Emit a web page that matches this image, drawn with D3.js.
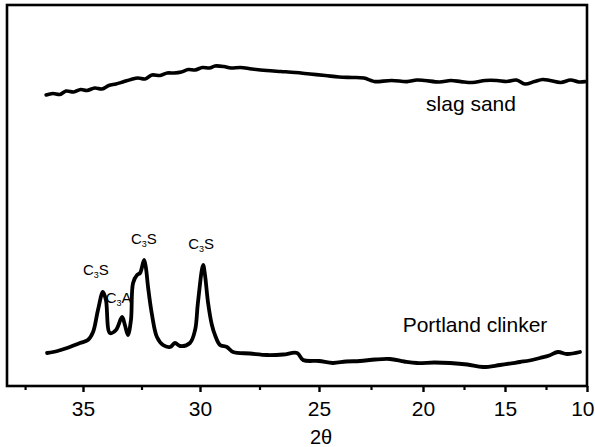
<!DOCTYPE html>
<html>
<head>
<meta charset="utf-8">
<script src="https://cdn.jsdelivr.net/npm/d3@7/dist/d3.min.js"></script>
<style>
  html, body { margin: 0; padding: 0; background: #fff; }
  svg { display: block; font-family: "Liberation Sans", Arial, sans-serif; }
</style>
</head>
<body>
<svg id="chart" width="595" height="447"></svg>
<script>
// ---- data (2θ in degrees, intensity in arbitrary units) ----
const slagTheta = [36.59, 36.3, 36.0, 35.73, 35.4, 35.1, 34.83, 34.5, 34.19, 33.9, 33.59, 33.3, 32.95, 32.65, 32.35, 32.05, 31.7, 31.4, 31.11, 30.8, 30.5, 30.21, 29.9, 29.6, 29.37, 29.0, 28.70, 28.3, 27.82, 27.2, 26.60, 26.0, 25.38, 24.7, 24.04, 23.4, 22.84, 22.5, 22.31, 21.5, 20.77, 20.3, 19.88, 19.0, 18.3, 17.68, 17.0, 16.2, 15.49, 14.9, 14.3, 13.78, 13.2, 12.7, 12.26, 11.6, 11.0, 10.5, 10.12];
const slagInt   = [291, 292.5, 291.5, 295, 294, 296.5, 295.5, 298, 297, 300.5, 302, 304, 306.5, 308, 307, 311, 310.5, 313, 313, 314, 316.5, 316, 318.5, 318, 320, 319.5, 318, 318.5, 317, 315.5, 314.5, 313.5, 312, 310.5, 309, 308.5, 308, 305.5, 304.4, 305.5, 304.4, 306, 305.5, 304, 305.5, 304.4, 303.5, 305.5, 305.5, 304.5, 306, 302, 304.5, 306.5, 305.5, 303.5, 306, 304, 304.4];

const clinkerTheta = [36.55, 36.1, 35.69, 35.13, 34.79, 34.57, 34.36, 34.15, 34.02, 33.85, 33.59, 33.33, 33.21, 33.08, 32.95, 32.86, 32.69, 32.56, 32.39, 32.31, 32.22, 32.05, 31.84, 31.58, 31.28, 31.07, 30.85, 30.43, 30.21, 30.09, 29.87, 29.79, 29.66, 29.50, 29.37, 29.16, 28.87, 28.61, 27.9, 27.18, 26.5, 25.92, 25.67, 25.0, 24.33, 23.7, 23.03, 22.3, 21.59, 20.9, 20.29, 19.3, 18.35, 17.3, 16.34, 15.30, 14.09, 13.5, 12.87, 12.3, 11.77, 11.22, 10.43];
const clinkerInt   = [33, 35, 38, 43, 46, 54, 76, 94, 86, 53, 56, 69, 61, 51, 66, 103, 111, 113, 126, 118, 99, 71, 49, 41, 39, 43, 40, 43, 56, 83, 121, 111, 83, 61, 51, 41, 39, 34, 32.5, 31, 31.5, 33, 26, 25, 23, 24.5, 25, 26.5, 27, 24.5, 23, 23.5, 23, 21.5, 19, 21, 24, 25.5, 28, 30.5, 34, 32, 34];

const majorTicks = [35, 30, 25, 20, 15, 10];
const minorTicks = [37.5, 32.5, 27.5, 22.5, 17.5, 12.5];
const seriesNames = ["slag sand", "Portland clinker"];
const peakLabels = [
  { base: "C", sub: "3", tail: "S", theta: 34.45, inten: 111 },
  { base: "C", sub: "3", tail: "A", theta: 33.48, inten: 83 },
  { base: "C", sub: "3", tail: "S", theta: 32.40, inten: 142 },
  { base: "C", sub: "3", tail: "S", theta: 29.95, inten: 137 }
];
const xLabel = "2θ";

// ---- layout ----
const W = 595, H = 447;
const margin = { top: 5, right: 8, bottom: 61, left: 7 };
const svg = d3.select("#chart");

// the printed axis is slightly non-uniform; piecewise linear scale follows it
const x = d3.scaleLinear()
  .domain([38.28, 35, 30, 25, 20, 15, 10])
  .range([margin.left, 83, 200, 319, 423, 505, W - margin.right]);
const y = d3.scaleLinear()
  .domain([0, 381])
  .range([H - margin.bottom, margin.top]);

const line = d3.line()
  .x(d => x(d[0]))
  .y(d => y(d[1]))
  .curve(d3.curveCatmullRom.alpha(0.5));

const slag = slagTheta.map((t, i) => [t, slagInt[i]]);
const clinker = clinkerTheta.map((t, i) => [t, clinkerInt[i]]);

svg.append("path").datum(slag)
  .attr("d", line).attr("fill", "none").attr("stroke", "#000")
  .attr("stroke-width", 3.6).attr("stroke-linejoin", "round").attr("stroke-linecap", "round");
svg.append("path").datum(clinker)
  .attr("d", line).attr("fill", "none").attr("stroke", "#000")
  .attr("stroke-width", 3.8).attr("stroke-linejoin", "round").attr("stroke-linecap", "round");

// frame
svg.append("rect")
  .attr("x", margin.left).attr("y", margin.top)
  .attr("width", W - margin.left - margin.right)
  .attr("height", H - margin.top - margin.bottom)
  .attr("fill", "none").attr("stroke", "#000").attr("stroke-width", 2.6);

// x axis
const axisG = svg.append("g").attr("transform", `translate(0,${H - margin.bottom})`);
axisG.call(d3.axisBottom(x).tickValues(majorTicks).tickSize(6).tickPadding(9).tickFormat(d3.format("d")))
  .call(g => g.select(".domain").remove())
  .call(g => g.selectAll(".tick line").attr("stroke-width", 2.4))
  .call(g => g.selectAll(".tick text").attr("font-size", 21).attr("fill", "#000")
    .attr("font-family", "'Liberation Sans', Arial, sans-serif"))
  .call(g => g.selectAll(".tick").filter(d => d === 10).select("text")
    .attr("text-anchor", "end").attr("x", 7));
svg.append("g").attr("transform", `translate(0,${H - margin.bottom})`)
  .call(d3.axisBottom(x).tickValues(minorTicks).tickSize(4).tickFormat(""))
  .call(g => g.select(".domain").remove())
  .call(g => g.selectAll(".tick line").attr("stroke-width", 2.2));

svg.append("text")
  .attr("x", 321).attr("y", 444)
  .attr("text-anchor", "middle").attr("font-size", 20)
  .text(xLabel);

// series labels
svg.append("text").attr("x", 471).attr("y", 111)
  .attr("text-anchor", "middle").attr("font-size", 21).text(seriesNames[0]);
svg.append("text").attr("x", 475).attr("y", 332)
  .attr("text-anchor", "middle").attr("font-size", 21).text(seriesNames[1]);

// peak labels
peakLabels.forEach(p => {
  const t = svg.append("text")
    .attr("x", x(p.theta)).attr("y", y(p.inten))
    .attr("text-anchor", "middle").attr("font-size", 15);
  t.append("tspan").text(p.base);
  t.append("tspan").attr("font-size", 9).attr("dy", 3).text(p.sub);
  t.append("tspan").attr("dy", -3).text(p.tail);
});
</script>
</body>
</html>
